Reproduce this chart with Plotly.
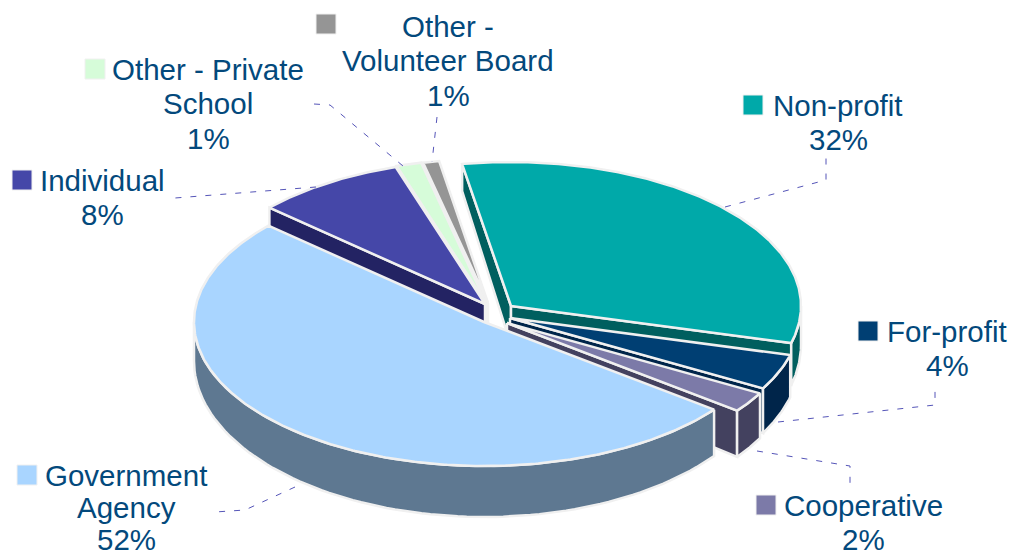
import numpy as np
import plotly.graph_objects as go

# ---- data ----
categories = ["Non-profit", "For-profit", "Cooperative", "Government Agency",
              "Individual", "Other - Private School", "Other - Volunteer Board"]
shares = [32.0, 4.0, 2.3, 51.5, 8.4, 1.4, 0.9]
top_colors = ["#00A9A9", "#003F73", "#7C7AA8", "#A9D5FF", "#4547A8", "#D6FCD9", "#959595"]
wall_colors = ["#005F5F", "#00254A", "#43415F", "#5E7891", "#232363", "#7A907B", "#555555"]

# ---- projection of the tilted pie ----
START_DEG = -9.7
RX, RY = 290, 144
APEX_X = [511, 510, 507, 484, 485, 486, 488]
APEX_Y = [306, 318, 323, 322, 304, 303, 303]
DRAW_ORDER = [6, 5, 4, 0, 1, 2, 3]
EDGE = "#F0F0F0"

# label layout: (centre x, first line y, line list), key square centre
LABEL_LINES = [["Non-profit"], ["For-profit"], ["Cooperative"], ["Government", "Agency"],
               ["Individual"], ["Other - Private", "School"], ["Other -", "Volunteer Board"]]
LABEL_X = [838, 947, 863, 126, 102, 208, 448]
LABEL_Y = [105, 331, 505, 475, 180, 69, 26]
LABEL_STEP = [34.5, 34.5, 34.5, 32, 34.5, 34.5, 34.5]
KEY_X = [753, 868, 766, 27, 22, 95, 326]
KEY_Y = [105, 331, 505, 475, 180, 69, 24]
LEADERS = [
    [(725, 207), (826, 180), (826, 158)],
    [(778, 422), (935, 405), (935, 385)],
    [(757, 451), (850, 466), (850, 484)],
    [(295, 487), (245, 510), (215, 512)],
    [(316, 187), (175, 198)],
    [(314, 104), (330, 105), (403, 166)],
    [(437, 117), (432, 162)],
]
FONT = dict(family="Liberation Sans, Arial, sans-serif", size=29.5, color="#03497C")


def top_xy(i, deg):
    a = np.radians(deg)
    return APEX_X[i] + RX * np.sin(a), APEX_Y[i] - RY * np.cos(a)


def drop(y, i):
    return 39 + 12 * (y - APEX_Y[i]) / RY


def poly(xs, ys, fill):
    return go.Scatter(x=list(xs), y=list(ys), mode="lines", fill="toself", fillcolor=fill,
                      line=dict(color=EDGE, width=2.5), hoverinfo="skip", showlegend=False)


total = sum(shares)
bounds = START_DEG + np.concatenate([[0], np.cumsum(shares)]) * 360 / total

fig = go.Figure()
for i in DRAW_ORDER:
    a0, a1 = bounds[i], bounds[i + 1]
    cx, cy = APEX_X[i], APEX_Y[i]
    # radial cut faces, only those turned toward the viewer
    faces = []
    if np.sin(np.radians(a0)) < 0:
        faces.append(a0)
    if np.sin(np.radians(a1)) > 0:
        faces.append(a1)
    for a in faces:
        x, y = top_xy(i, a)
        fig.add_trace(poly([cx, x, x, cx, cx], [cy, y, y + drop(y, i), cy + drop(cy, i), cy], wall_colors[i]))
    # outer wall, only where the rim faces the viewer
    w0, w1 = max(a0, 90), min(a1, 270)
    if w1 > w0:
        t = np.linspace(w0, w1, 80)
        xs, ys = top_xy(i, t)
        ybot = ys + drop(ys, i)
        fig.add_trace(poly(np.r_[xs, xs[::-1], xs[0]], np.r_[ys, ybot[::-1], ys[0]], wall_colors[i]))
    # top surface
    t = np.linspace(a0, a1, max(8, int((a1 - a0) * 2)))
    xs, ys = top_xy(i, t)
    fig.add_trace(poly(np.r_[cx, xs, cx], np.r_[cy, ys, cy], top_colors[i]))

annotations, shapes = [], []
for i, name in enumerate(categories):
    lines = LABEL_LINES[i] + [f"{round(shares[i])}%"]
    for k, txt in enumerate(lines):
        annotations.append(dict(x=LABEL_X[i], y=LABEL_Y[i] + k * LABEL_STEP[i], text=txt, showarrow=False,
                                xanchor="center", yanchor="middle", font=FONT))
    shapes.append(dict(type="rect", x0=KEY_X[i] - 10, x1=KEY_X[i] + 10, y0=KEY_Y[i] - 10, y1=KEY_Y[i] + 10,
                       fillcolor=top_colors[i], line=dict(color=EDGE, width=1)))
    path = "M " + " L ".join(f"{x},{y}" for x, y in LEADERS[i])
    shapes.append(dict(type="path", path=path, line=dict(color="#5555B8", width=1, dash="6px,9px")))

fig.update_layout(
    width=1013, height=556, margin=dict(l=0, r=0, t=0, b=0),
    paper_bgcolor="white", plot_bgcolor="white", showlegend=False,
    annotations=annotations, shapes=shapes,
    xaxis=dict(range=[0, 1013], visible=False, fixedrange=True),
    yaxis=dict(range=[556, 0], visible=False, fixedrange=True),
)
fig.write_html("out.html", config={"displayModeBar": False},
               post_script="document.body.style.margin='0';")
